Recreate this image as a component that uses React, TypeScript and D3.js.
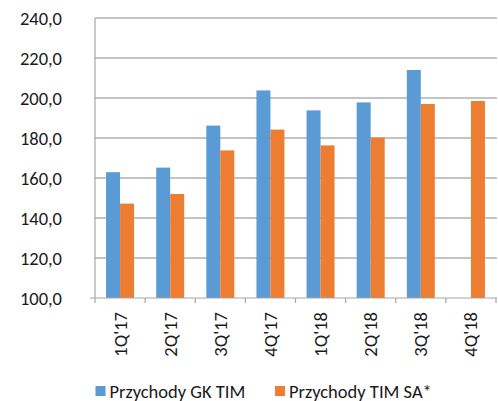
import React from 'react';
import * as d3 from 'd3';

const categories = ['1Q\'17', '2Q\'17', '3Q\'17', '4Q\'17', '1Q\'18', '2Q\'18', '3Q\'18', '4Q\'18'];
const seriesNames = ['Przychody GK TIM', 'Przychody TIM SA*'];
const gkTim: (number | null)[] = [162.9, 165.2, 186.2, 203.8, 193.8, 197.8, 214.0, null];
const timSa: (number | null)[] = [147.2, 152.0, 173.8, 184.2, 176.3, 180.2, 197.0, 198.5];
const yTicks = [100, 120, 140, 160, 180, 200, 220, 240];
const colors = ['#5B9BD5', '#ED7D31'];

const font = 'Carlito, Calibri, "Open Sans", sans-serif';
const fontSize = 18.5;

export default function App() {
  const width = 498;
  const height = 401;
  const margin = { top: 18, right: 2, bottom: 103, left: 95 };

  const x = d3
    .scaleBand()
    .domain(categories)
    .range([margin.left, width - margin.right])
    .paddingInner(0)
    .paddingOuter(0);

  const inner = d3
    .scaleBand()
    .domain(seriesNames)
    .range([0, x.bandwidth()])
    .paddingOuter(0.79)
    .paddingInner(0);

  const y = d3
    .scaleLinear()
    .domain([100, 240])
    .range([height - margin.bottom, margin.top]);

  const series = [gkTim, timSa];
  const fmt = (v: number) => v.toFixed(1).replace('.', ',');

  return (
    <svg
      width={width}
      height={height}
      style={{ position: 'absolute', left: 0, top: 0, background: '#fff' }}
    >
      {/* gridlines */}
      {yTicks.slice(1).map(t => (
        <line key={t} x1={margin.left} x2={width - 1} y1={y(t)} y2={y(t)} stroke="#8a8a8a" strokeWidth={1.2} />
      ))}

      {/* bars */}
      {series.map((vals, si) =>
        vals.map((v, i) =>
          v == null ? null : (
            <rect
              key={`${si}-${i}`}
              x={(x(categories[i]) ?? 0) + (inner(seriesNames[si]) ?? 0)}
              y={y(v)}
              width={inner.bandwidth()}
              height={y(100) - y(v)}
              fill={colors[si]}
            />
          )
        )
      )}

      {/* baseline */}
      <line x1={margin.left - 5} x2={width - 1} y1={y(100)} y2={y(100)} stroke="#a6a6a6" strokeWidth={1.2} />
      {/* y axis line */}
      <line x1={margin.left} x2={margin.left} y1={y(240)} y2={y(100)} stroke="#a6a6a6" strokeWidth={1.2} />
      {/* category ticks */}
      {categories.map(c => (
        <line
          key={c}
          x1={x(c) ?? 0}
          x2={x(c) ?? 0}
          y1={y(100)}
          y2={y(100) + 5}
          stroke="#a6a6a6"
          strokeWidth={1.2}
        />
      ))}
      <line x1={width - 2} x2={width - 2} y1={y(100)} y2={y(100) + 5} stroke="#a6a6a6" strokeWidth={1.2} />

      {/* y labels */}
      {yTicks.map(t => (
        <text
          key={t}
          x={62}
          y={y(t)}
          textAnchor="end"
          dominantBaseline="central"
          fontFamily={font}
          fontSize={fontSize}
          fill="#1a1a1a"
        >
          {fmt(t)}
        </text>
      ))}

      {/* x labels */}
      {categories.map(c => {
        const cx = (x(c) ?? 0) + x.bandwidth() / 2;
        const ty = y(100) + 14;
        return (
          <text
            key={c}
            transform={`translate(${cx},${ty}) rotate(-90)`}
            textAnchor="end"
            dominantBaseline="central"
            fontFamily={font}
            fontSize={fontSize}
            fill="#1a1a1a"
          >
            {c}
          </text>
        );
      })}

      {/* legend */}
      {seriesNames.map((s, i) => {
        const lx = i === 0 ? 95.5 : 275;
        return (
          <g key={s}>
            <rect x={lx} y={386} width={10} height={10} fill={colors[i]} />
            <text x={lx + 14} y={391} dominantBaseline="central" fontFamily={font} fontSize={fontSize} fill="#1a1a1a">
              {s}
            </text>
          </g>
        );
      })}
    </svg>
  );
}
